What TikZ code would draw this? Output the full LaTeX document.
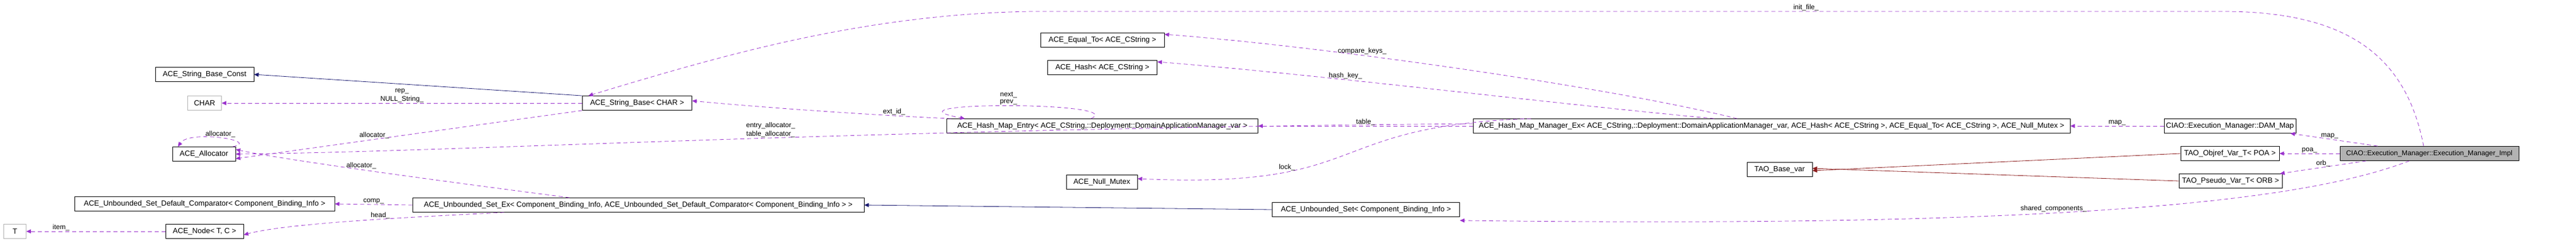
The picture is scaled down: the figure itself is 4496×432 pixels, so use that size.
\documentclass[tikz,border=0pt]{standalone}
\usepackage{fontspec}
\setmainfont{Liberation Sans}
\usetikzlibrary{arrows.meta}
\definecolor{pur}{HTML}{9A32CD}
\definecolor{nav}{HTML}{191970}
\definecolor{brn}{HTML}{8B1A1A}
\begin{document}
\begin{tikzpicture}[x=1pt,y=-1pt,
  cls/.style={draw=black,fill=white,line width=0.8pt,minimum height=25pt,inner sep=0pt,font=\fontsize{13}{14}\selectfont},
  ext/.style={cls,draw=gray!60},
  use/.style={pur,dash pattern=on 7pt off 5pt,line width=0.8pt,-{Triangle[length=8pt,width=7pt]}},
  inh/.style={nav,line width=0.8pt,-{Triangle[length=8pt,width=7pt]}},
  inb/.style={brn,line width=0.8pt,-{Triangle[length=8pt,width=7pt]}},
  lab/.style={text=black,font=\fontsize{12}{13}\selectfont,inner sep=1pt}]
\useasboundingbox (0,0) rectangle (4496,432);
\node[cls,minimum width=172pt] (sbc) at (357,130) {ACE\_String\_Base\_Const};
\node[ext,minimum width=59pt] (char) at (357,180) {CHAR};
\node[cls,minimum width=110pt] (alloc) at (356,269) {ACE\_Allocator};
\node[cls,minimum width=454pt] (cmp) at (357,356) {ACE\_Unbounded\_Set\_Default\_Comparator< Component\_Binding\_Info >};
\node[ext,minimum width=39pt] (T) at (26,404) {T};
\node[cls,minimum width=136pt] (node) at (357,404) {ACE\_Node< T, C >};
\node[cls,minimum width=788pt] (usx) at (1114,358) {ACE\_Unbounded\_Set\_Ex< Component\_Binding\_Info, ACE\_Unbounded\_Set\_Default\_Comparator< Component\_Binding\_Info > >};
\node[cls,minimum width=191pt] (sb) at (1112,180) {ACE\_String\_Base< CHAR >};
\node[cls,minimum width=216pt] (eq) at (1924,70) {ACE\_Equal\_To< ACE\_CString >};
\node[cls,minimum width=191pt] (hash) at (1924,118) {ACE\_Hash< ACE\_CString >};
\node[cls,minimum width=543pt] (ent) at (1924,220) {ACE\_Hash\_Map\_Entry< ACE\_CString,::Deployment::DomainApplicationManager\_var >};
\node[cls,minimum width=124pt] (mtx) at (1923,318) {ACE\_Null\_Mutex};
\node[cls,minimum width=1042pt] (mgr) at (3092,220) {ACE\_Hash\_Map\_Manager\_Ex< ACE\_CString,::Deployment::DomainApplicationManager\_var, ACE\_Hash< ACE\_CString >, ACE\_Equal\_To< ACE\_CString >, ACE\_Null\_Mutex >};
\node[cls,minimum width=327pt] (us) at (2384,366) {ACE\_Unbounded\_Set< Component\_Binding\_Info >};
\node[cls,minimum width=114pt] (bv) at (3106,296) {TAO\_Base\_var};
\node[cls,minimum width=230pt] (dam) at (3892,220) {CIAO::Execution\_Manager::DAM\_Map};
\node[cls,minimum width=172pt] (poa) at (3892,268) {TAO\_Objref\_Var\_T< POA >};
\node[cls,minimum width=180pt] (orb) at (3893,316) {TAO\_Pseudo\_Var\_T< ORB >};
\node[cls,fill=gray!60,minimum width=312pt,font=\fontsize{12.2}{14}\selectfont] (impl) at (4240,268) {CIAO::Execution\_Manager::Execution\_Manager\_Impl};
% inheritance
\draw[inh] (sb.north west) -- (sbc.east);
\draw[inh] (us.west) -- (usx.east);
\draw[inb] (poa.west) -- ([yshift=-2pt]bv.east);
\draw[inb] (orb.west) -- ([yshift=2pt]bv.east);
% usage
\draw[use] (sb.west) -- node[lab,above,pos=0.5]{\shortstack{rep\_\\NULL\_String\_}} (char.east);
\draw[use] (sb.south west) -- node[lab,above,pos=0.6]{allocator\_} ([yshift=-8pt]alloc.east);
\draw[use] ([xshift=50pt]alloc.north) .. controls +(50,-10) and +(20,-30) .. node[lab,above]{allocator\_} ([xshift=10pt]alloc.north west) ;
\draw[use] ([yshift=4pt]mgr.west) .. controls (1500,225) and (800,265) .. node[lab,above,pos=0.45]{\shortstack{entry\_allocator\_\\table\_allocator\_}} (alloc.east);
\draw[use] ([xshift=-120pt]usx.north) .. controls (800,320) and (500,280) .. node[lab,above,pos=0.55]{allocator\_} ([yshift=8pt]alloc.east);
\draw[use] (usx.west) -- node[lab,above]{comp\_} (cmp.east);
\draw[use] ([xshift=-234pt]usx.south) .. controls (700,380) and (500,390) .. node[lab,above,pos=0.4]{head\_} ([yshift=-6pt]node.east);
\draw[use] (node.west) -- node[lab,above,pos=0.75]{item\_} (T.east);
\draw[use] ([xshift=8pt]ent.north west) .. controls (1500,200) and (1300,185) .. node[lab,above,pos=0.2]{ext\_id\_} ([yshift=4pt]sb.east);
\draw[use] ([xshift=-20pt]ent.north) .. controls +(70,-30) and +(-160,-30) .. node[lab,above]{\shortstack{next\_\\prev\_}} ([xshift=-240pt]ent.north);
\draw[use] (mgr.west) -- node[lab,above]{table\_} (ent.east);
\draw[use] ([xshift=-60pt]mgr.north) .. controls (2800,150) and (2300,80) .. node[lab,above,pos=0.65]{compare\_keys\_} ([yshift=10pt]eq.east);
\draw[use] ([xshift=-100pt]mgr.north) .. controls (2700,180) and (2300,130) .. node[lab,above,pos=0.65]{hash\_key\_} ([yshift=10pt]hash.east);
\draw[use] ([xshift=-420pt]mgr.north) .. controls (2300,220) and (2400,330) .. node[lab,above,pos=0.7]{lock\_} ([yshift=6pt]mtx.east);
\draw[use] (dam.west) -- node[lab,above]{map\_} (mgr.east);
\draw[use] ([xshift=-90pt]impl.north) -- node[lab,above,pos=0.55]{map\_} ([xshift=-10pt]dam.south east);
\draw[use] (impl.west) -- node[lab,above]{poa\_} (poa.east);
\draw[use] ([xshift=-110pt]impl.south) -- node[lab,above,pos=0.5]{orb\_} ([xshift=-4pt]orb.north east);
\draw[use] ([xshift=-35pt]impl.south) .. controls (4050,340) and (3700,400) .. node[lab,above,pos=0.6]{shared\_components\_} ([yshift=-6pt]us.south east);
\draw[use] ([xshift=-10pt]impl.north) .. controls (4200,100) and (4100,20) .. (3880,20) -- node[lab,above,pos=0.35]{init\_file\_} (1800,20) .. controls (1500,25) and (1250,100) .. ([xshift=-85pt]sb.north);
\end{tikzpicture}
\end{document}
